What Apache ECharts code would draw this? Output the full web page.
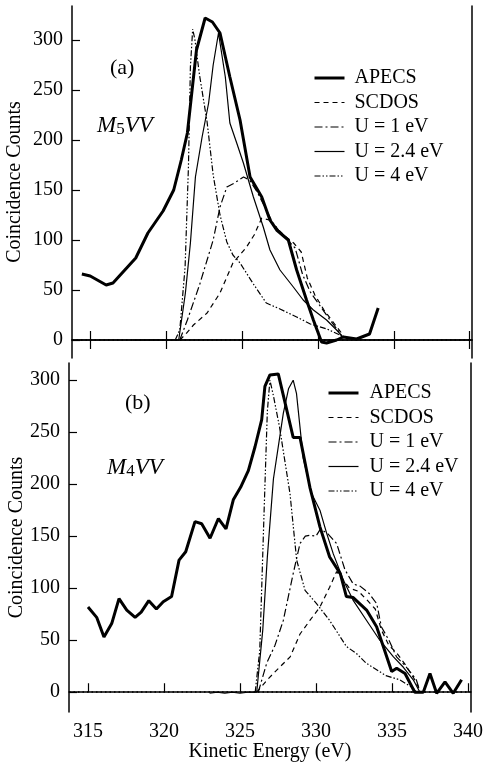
<!DOCTYPE html>
<html>
<head>
<meta charset="utf-8">
<script src="https://cdn.jsdelivr.net/npm/echarts@6/dist/echarts.min.js"></script>
<style>
  html, body { margin: 0; padding: 0; background: #fff; }
  #chart { width: 484px; height: 779px; }
</style>
</head>
<body>
<div id="chart"></div>
<script>
// tick values
const energyTicks = [315, 320, 325, 330, 335, 340];
const countTicks = [0, 50, 100, 150, 200, 250, 300];
const seriesNames = ['APECS', 'SCDOS', 'U = 1 eV', 'U = 2.4 eV', 'U = 4 eV'];

// panel (a) M5VV : [kinetic energy (eV), counts]
const apecsA = [[314.45,66],[315,64],[316.05,55],[316.5,57],[318,82],[318.8,107],[319.8,129],[320.5,150],[321,180],[321.4,207],[322,290],[322.57,322],[323.05,318],[323.55,307],[324.2,263],[324.87,220],[325.53,163],[326.3,143],[326.84,120],[327.28,110],[328.05,100],[328.6,70],[329.25,40],[329.7,20],[330.24,-2],[330.57,-3],[331.23,0],[331.67,3],[332.55,1],[333.4,6],[333.97,32]];
const scdosA = [[320.9,0],[321.3,6],[321.8,15],[322.7,27],[323.55,47],[324.4,77],[325.3,93],[325.8,105],[326.3,122],[326.8,120],[327.3,112],[327.8,104],[328.4,97],[328.9,88],[329.3,62],[329.8,45],[330.4,30],[331.0,18],[331.5,8],[331.7,3]];
const u1A = [[320.9,0],[321.4,20],[322.2,55],[322.7,80],[323.1,100],[323.55,133],[324.0,153],[324.5,157],[325.1,163],[325.5,160],[326.0,148],[326.5,133],[327.0,118],[327.5,108],[328.0,100],[328.5,92],[329.0,65],[329.5,48],[330.1,35],[330.7,22],[331.3,10],[331.6,3]];
const u24A = [[317.8,0],[320.5,0],[320.83,0],[321.27,47],[321.6,97],[321.93,163],[322.37,203],[322.8,237],[323.1,275],[323.45,307],[323.9,263],[324.2,217],[324.65,197],[325.09,177],[325.75,143],[326.4,113],[326.84,90],[327.5,70],[328.38,53],[329.03,40],[329.7,30],[330.57,20],[331.23,10],[331.65,3]];
const u4A = [[320.6,0],[320.9,10],[321.25,73],[321.47,173],[321.6,273],[321.75,311],[321.9,300],[322.2,265],[322.7,218],[323.1,165],[323.55,125],[324.0,98],[324.4,85],[324.87,77],[325.75,56],[326.6,37],[327.5,31],[328.6,23],[329.5,16],[330.6,11],[331.45,5],[331.65,2]];

// panel (b) M4VV
const apecsB = [[315,82],[315.57,72],[316.05,53],[316.56,66],[317.04,90],[317.55,79],[318.1,72],[318.5,77],[319.0,88],[319.5,80],[319.95,87],[320.5,92],[320.99,127],[321.43,135],[322.04,164],[322.48,162],[323.03,148],[323.58,167],[324.08,157],[324.56,185],[325.04,197],[325.55,213],[325.99,236],[326.43,262],[326.64,294],[326.97,305],[327.52,306],[328.5,245],[328.95,245],[329.6,197],[330.26,159],[330.9,130],[331.6,114],[332.0,92],[332.45,91],[333.33,79],[333.99,63],[334.43,44],[334.98,20],[335.31,23],[335.86,18],[336.5,0],[337.06,0],[337.5,18],[337.94,-1],[338.49,10],[339.03,-1],[339.58,12]];
const scdosB = [[326.1,0],[326.8,12],[327.4,21],[328.3,34],[328.95,56],[329.6,69],[330.26,82],[330.9,101],[331.36,116],[331.7,110],[332.2,100],[332.8,97],[333.4,88],[333.9,80],[334.3,60],[334.8,45],[335.3,38],[335.9,26],[336.5,12],[336.8,3]];
const u1B = [[326.2,0],[326.76,28],[327.3,45],[327.85,69],[328.5,114],[328.95,143],[329.3,150],[329.6,151],[330.0,150],[330.3,157],[330.8,152],[331.36,143],[331.9,118],[332.45,104],[332.9,102],[333.5,95],[334.0,85],[334.3,63],[334.8,50],[335.3,34],[335.9,25],[336.6,12],[336.8,3]];
const u24B = [[323.0,-1],[323.5,0],[324.0,-1],[324.5,0],[325.0,-1],[325.5,0],[326.1,0],[326.5,60],[326.8,130],[327.2,205],[327.85,268],[328.2,292],[328.5,300],[328.72,287],[329.16,225],[329.71,191],[330.26,175],[330.7,153],[331.14,133],[331.8,108],[332.46,88],[333.33,69],[334.2,50],[335.1,34],[335.75,24],[336.4,12],[336.84,0]];
const u4B = [[326.0,0],[326.3,40],[326.6,180],[326.8,270],[326.97,300],[327.2,285],[327.6,255],[328.29,191],[328.73,127],[329.28,98],[330.05,85],[330.9,69],[332.0,44],[332.68,37],[333.3,28],[334.6,16],[335.5,12],[336.4,4],[336.6,0]];

const FONT = "'Liberation Serif', 'DejaVu Serif', serif";
const styles = {
  'APECS': { width: 3, type: 'solid' },
  'SCDOS': { width: 1.2, type: [5, 4] },
  'U = 1 eV': { width: 1.2, type: [8, 3, 2, 3] },
  'U = 2.4 eV': { width: 1.2, type: 'solid' },
  'U = 4 eV': { width: 1.2, type: [6, 2, 1.5, 2, 1.5, 2] }
};

const chart = echarts.init(document.getElementById('chart'));

const makeSeries = (datasets, xi, yi) => datasets.map((d, i) => ({
  name: seriesNames[i],
  type: 'line',
  xAxisIndex: xi,
  yAxisIndex: yi,
  data: d,
  symbol: 'none',
  animation: false,
  z: i === 0 ? 5 : 3,
  lineStyle: { color: '#000', width: styles[seriesNames[i]].width, type: styles[seriesNames[i]].type },
  itemStyle: { color: '#000' }
}));

const zeroLine = (xi, yi) => ({
  type: 'line', xAxisIndex: xi, yAxisIndex: yi, data: [], symbol: 'none', silent: true,
  markLine: {
    symbol: 'none', silent: true, label: { show: false },
    lineStyle: { color: '#000', type: [1.5, 3], width: 1.5 },
    data: [{ yAxis: 0 }]
  }
});

const frameLine = { show: true, lineStyle: { color: '#000', width: 1.5 } };
const legendBase = {
  data: seriesNames.map(n => ({ name: n, lineStyle: { width: styles[n].width, type: styles[n].type, color: '#000' } })),
  orient: 'vertical', padding: 0, itemWidth: 30, itemHeight: 14, itemGap: 4.5,
  selectedMode: false,
  itemStyle: { color: 'rgba(0,0,0,0)', borderWidth: 0 }
};

const option = {
  animation: false,
  backgroundColor: '#fff',
  textStyle: { fontFamily: FONT, color: '#000' },
  grid: [
    { left: 72, top: 6, width: 400, height: 352, outerBoundsMode: 'none', containLabel: false },
    { left: 69, top: 363, width: 402, height: 349, outerBoundsMode: 'none', containLabel: false }
  ],
  xAxis: [
    { type: 'value', gridIndex: 0, position: 'bottom', min: 313.8, max: 340.15,
      axisLine: frameLine, splitLine: { show: false },
      axisTick: { inside: true, length: 9, customValues: energyTicks, lineStyle: { width: 1.2 } },
      axisLabel: { show: false } },
    { type: 'value', gridIndex: 0, position: 'top', min: 313.8, max: 340.15,
      axisLine: frameLine, splitLine: { show: false },
      axisTick: { inside: true, length: 9, customValues: energyTicks, lineStyle: { width: 1.2 } },
      axisLabel: { show: false } },
    { type: 'value', gridIndex: 1, position: 'bottom', min: 313.75, max: 340.2,
      axisLine: frameLine, splitLine: { show: false },
      axisTick: { inside: true, length: 9, customValues: energyTicks, lineStyle: { width: 1.2 } },
      axisLabel: { customValues: energyTicks, fontSize: 20, color: '#000', fontFamily: FONT, margin: 10 },
      name: 'Kinetic Energy (eV)', nameLocation: 'middle', nameGap: 30, nameMoveOverlap: false,
      nameTextStyle: { fontSize: 20, color: '#000', fontFamily: FONT } }
  ],
  yAxis: [
    { type: 'value', gridIndex: 0, position: 'left', min: -18, max: 334,
      axisLine: frameLine, splitLine: { show: false },
      axisTick: { inside: true, length: 8, customValues: countTicks, lineStyle: { width: 1.2 } },
      axisLabel: { customValues: countTicks, fontSize: 20, color: '#000', fontFamily: FONT, margin: 9 },
      name: 'Coincidence Counts', nameLocation: 'middle', nameGap: 47, nameRotate: 90, nameMoveOverlap: false,
      nameTextStyle: { fontSize: 20, color: '#000', fontFamily: FONT } },
    { type: 'value', gridIndex: 0, position: 'right', min: -18, max: 334,
      axisLine: frameLine, splitLine: { show: false }, axisTick: { show: false }, axisLabel: { show: false } },
    { type: 'value', gridIndex: 1, position: 'left', min: -19, max: 316.5,
      axisLine: frameLine, splitLine: { show: false },
      axisTick: { inside: true, length: 8, customValues: countTicks, lineStyle: { width: 1.2 } },
      axisLabel: { customValues: countTicks, fontSize: 20, color: '#000', fontFamily: FONT, margin: 9 },
      name: 'Coincidence Counts', nameLocation: 'middle', nameGap: 42, nameRotate: 90, nameMoveOverlap: false,
      nameTextStyle: { fontSize: 20, color: '#000', fontFamily: FONT } },
    { type: 'value', gridIndex: 1, position: 'right', min: -19, max: 316.5,
      axisLine: frameLine, splitLine: { show: false }, axisTick: { show: false }, axisLabel: { show: false } }
  ],
  legend: [
    Object.assign({}, legendBase, { left: 313, top: 68,
      textStyle: { fontSize: 20, lineHeight: 20, color: '#000', fontFamily: FONT, padding: [0, 0, 0, 5] } }),
    Object.assign({}, legendBase, { left: 327, top: 383,
      textStyle: { fontSize: 20, lineHeight: 20, color: '#000', fontFamily: FONT, padding: [0, 0, 0, 6] } })
  ],
  graphic: [
    { type: 'text', left: 110, top: 57, style: { text: '(a)', font: '22px ' + FONT, fill: '#000' } },
    { type: 'text', left: 97, top: 114, style: {
      text: '{m|M}{s|5}{m|VV}',
      rich: {
        m: { fontSize: 23, fontStyle: 'italic', fontFamily: FONT, lineHeight: 26, verticalAlign: 'middle' },
        s: { fontSize: 17, fontFamily: FONT, lineHeight: 14, verticalAlign: 'bottom' }
      } } },
    { type: 'text', left: 125, top: 392, style: { text: '(b)', font: '22px ' + FONT, fill: '#000' } },
    { type: 'text', left: 107, top: 456, style: {
      text: '{m|M}{s|4}{m|VV}',
      rich: {
        m: { fontSize: 23, fontStyle: 'italic', fontFamily: FONT, lineHeight: 26, verticalAlign: 'middle' },
        s: { fontSize: 17, fontFamily: FONT, lineHeight: 14, verticalAlign: 'bottom' }
      } } }
  ],
  series: [
    zeroLine(0, 0),
    ...makeSeries([apecsA, scdosA, u1A, u24A, u4A], 0, 0),
    zeroLine(2, 2),
    ...makeSeries([apecsB, scdosB, u1B, u24B, u4B], 2, 2)
  ]
};

chart.setOption(option);
window.addEventListener('resize', () => chart.resize());
</script>
</body>
</html>
